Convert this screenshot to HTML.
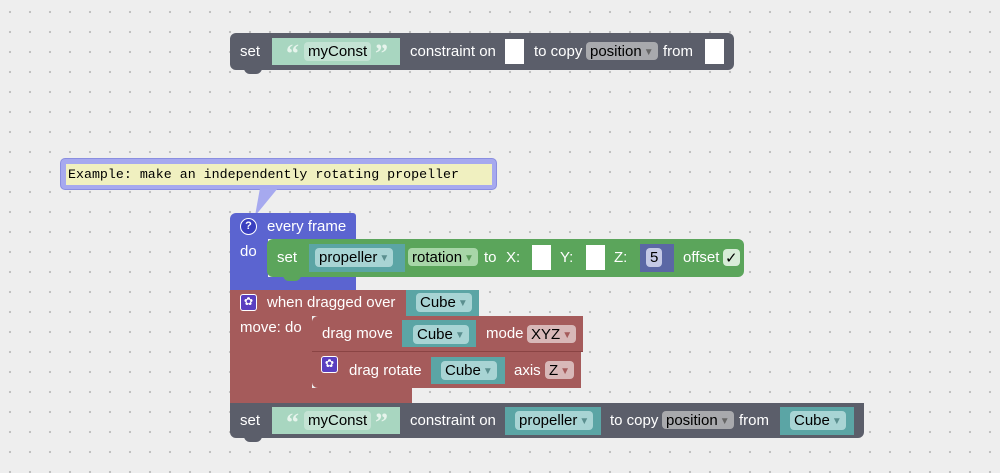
<!DOCTYPE html>
<html><head><meta charset="utf-8"><style>
body{margin:0;width:1000px;height:473px;overflow:hidden;background:#eeeeee;
background-image:radial-gradient(circle,#bdbdbd 1px,transparent 1.3px);background-size:20px 20px;background-position:0px 2px;
font-family:"Liberation Sans",sans-serif;position:relative}
.a{position:absolute;box-sizing:border-box}
.t{position:absolute;color:#fff;font-size:15px;line-height:18px;white-space:nowrap}
.f{position:absolute;font-size:15px;line-height:19px;color:#000;border-radius:4px;padding:0 4px;white-space:nowrap;box-sizing:border-box}
.f i{font-style:normal;font-size:10px;color:#5b8f8f;margin-left:2px;vertical-align:1px}
.gray{background:#5b5e6a}.purple{background:#5b64d0}.green{background:#5ba55b}.red{background:#a55b5b}.teal{background:#5ba5a5}
.tx{background:#a8d6c0}
.q{position:absolute;color:#e6f4ec;font-family:"Liberation Serif",serif;font-size:26px;line-height:26px;font-weight:bold}
.slot{position:absolute;background:#fff}
</style></head><body>

<!-- top block -->
<div class="a gray" style="left:230px;top:33px;width:504px;height:37px;border-radius:6px"></div>
<div class="a gray" style="left:244px;top:68px;width:18px;height:6px;border-radius:0 0 8px 8px"></div>
<div class="t" style="left:240px;top:43px">set</div>
<div class="a tx" style="left:272px;top:38px;width:128px;height:27px"></div>
<div class="q" style="left:286px;top:41px">“</div>
<div class="f" style="left:304px;top:42px;background:#c4e3d4;height:19px">myConst</div>
<div class="q" style="left:375px;top:41px">”</div>
<div class="t" style="left:410px;top:43px">constraint on</div>
<div class="slot" style="left:505px;top:39px;width:19px;height:25px"></div>
<div class="t" style="left:534px;top:43px">to copy</div>
<div class="f" style="left:586px;top:42px;background:#a8a9ad;height:18px">position<i style="color:#666">▼</i></div>
<div class="t" style="left:663px;top:43px">from</div>
<div class="slot" style="left:705px;top:39px;width:19px;height:25px"></div>

<!-- comment -->
<div class="a" style="left:60px;top:158px;width:437px;height:32px;background:#a6a9ef;border:1px solid #8a8ee0;border-radius:5px"></div>
<svg class="a" style="left:250px;top:188px" width="40" height="30"><polygon points="10,0 28,0 5,28" fill="#a6a9ef"/></svg>
<div class="a" style="left:66px;top:164px;width:426px;height:21px;background:#f0f0c0"></div>
<div class="a" style="left:68px;top:166px;font-family:'Liberation Mono',monospace;font-size:13.3px;line-height:17px;color:#000">Example: make an independently rotating propeller</div>

<!-- every frame -->
<div class="a purple" style="left:230px;top:213px;width:126px;height:26px;border-radius:6px 3px 0 0"></div>
<div class="a purple" style="left:230px;top:239px;width:38px;height:52px"></div>
<div class="a purple" style="left:230px;top:277px;width:126px;height:14px"></div>
<div class="a" style="left:240px;top:218px;width:17px;height:17px;border-radius:50%;background:#3a3fc0;border:1px solid #fff;color:#fff;font-size:11px;text-align:center;line-height:15px;font-weight:bold">?</div>
<div class="t" style="left:267px;top:218px">every frame</div>
<div class="t" style="left:240px;top:243px">do</div>

<!-- green set -->
<div class="a green" style="left:267px;top:239px;width:477px;height:38px;border-radius:6px"></div>
<div class="a green" style="left:283px;top:275px;width:18px;height:6px;border-radius:0 0 8px 8px"></div>
<div class="t" style="left:277px;top:249px">set</div>
<div class="a teal" style="left:309px;top:244px;width:96px;height:28px"></div>
<div class="f" style="left:315px;top:248px;background:#a8d4d4;height:19px">propeller<i>▼</i></div>
<div class="f" style="left:408px;top:248px;background:#a8d6a8;height:18px">rotation<i style="color:#5b9b5b">▼</i></div>
<div class="t" style="left:484px;top:249px">to</div>
<div class="t" style="left:506px;top:249px">X:</div>
<div class="slot" style="left:532px;top:245px;width:19px;height:25px"></div>
<div class="t" style="left:560px;top:249px">Y:</div>
<div class="slot" style="left:586px;top:245px;width:19px;height:25px"></div>
<div class="t" style="left:614px;top:249px">Z:</div>
<div class="a" style="left:640px;top:244px;width:34px;height:28px;background:#5b67a5"></div>
<div class="f" style="left:646px;top:248px;background:#c5c9e6;height:19px">5</div>
<div class="t" style="left:683px;top:249px">offset</div>
<div class="f" style="left:723px;top:249px;background:#d8ecd8;height:17px;padding:0 2px">✓</div>

<!-- red when dragged -->
<div class="a red" style="left:230px;top:290px;width:182px;height:26px"></div>
<div class="a red" style="left:230px;top:316px;width:82px;height:87px"></div>
<div class="a red" style="left:230px;top:388px;width:182px;height:15px"></div>
<div class="a" style="left:240px;top:294px;width:17px;height:17px;background:#5a3fc0;border:1px solid #fff;border-radius:3px;color:#fff;font-size:11px;text-align:center;line-height:15px">✿</div>
<div class="t" style="left:267px;top:294px">when dragged over</div>
<div class="a teal" style="left:406px;top:290px;width:73px;height:27px"></div>
<div class="f" style="left:416px;top:293px;background:#a8d4d4;height:19px">Cube<i>▼</i></div>
<div class="t" style="left:240px;top:319px">move: do</div>

<div class="a red" style="left:312px;top:316px;width:271px;height:36px;border-top-left-radius:6px;border-bottom:1px solid #8a4444"></div>
<div class="t" style="left:322px;top:325px">drag move</div>
<div class="a teal" style="left:402px;top:320px;width:74px;height:27px"></div>
<div class="f" style="left:413px;top:325px;background:#a8d4d4;height:19px">Cube<i>▼</i></div>
<div class="t" style="left:486px;top:325px">mode</div>
<div class="f" style="left:527px;top:325px;background:#d8b8b8;height:18px">XYZ<i style="color:#a55b5b">▼</i></div>

<div class="a red" style="left:312px;top:352px;width:269px;height:36px;border-bottom-left-radius:6px"></div>
<div class="a" style="left:321px;top:356px;width:17px;height:17px;background:#5a3fc0;border:1px solid #fff;border-radius:3px;color:#fff;font-size:11px;text-align:center;line-height:15px">✿</div>
<div class="t" style="left:349px;top:362px">drag rotate</div>
<div class="a teal" style="left:431px;top:357px;width:74px;height:27px"></div>
<div class="f" style="left:441px;top:361px;background:#a8d4d4;height:19px">Cube<i>▼</i></div>
<div class="t" style="left:514px;top:362px">axis</div>
<div class="f" style="left:545px;top:361px;background:#d8b8b8;height:18px">Z<i style="color:#a55b5b">▼</i></div>

<!-- bottom gray -->
<div class="a gray" style="left:230px;top:403px;width:634px;height:35px;border-radius:0 0 6px 6px"></div>
<div class="a gray" style="left:244px;top:436px;width:18px;height:6px;border-radius:0 0 8px 8px"></div>
<div class="t" style="left:240px;top:412px">set</div>
<div class="a tx" style="left:272px;top:407px;width:128px;height:27px"></div>
<div class="q" style="left:286px;top:410px">“</div>
<div class="f" style="left:304px;top:411px;background:#c4e3d4;height:19px">myConst</div>
<div class="q" style="left:375px;top:410px">”</div>
<div class="t" style="left:410px;top:412px">constraint on</div>
<div class="a teal" style="left:505px;top:407px;width:96px;height:28px"></div>
<div class="f" style="left:515px;top:411px;background:#a8d4d4;height:19px">propeller<i>▼</i></div>
<div class="t" style="left:610px;top:412px">to copy</div>
<div class="f" style="left:662px;top:411px;background:#a8a9ad;height:18px">position<i style="color:#666">▼</i></div>
<div class="t" style="left:739px;top:412px">from</div>
<div class="a teal" style="left:780px;top:407px;width:74px;height:28px"></div>
<div class="f" style="left:790px;top:411px;background:#a8d4d4;height:19px">Cube<i>▼</i></div>
</body></html>
